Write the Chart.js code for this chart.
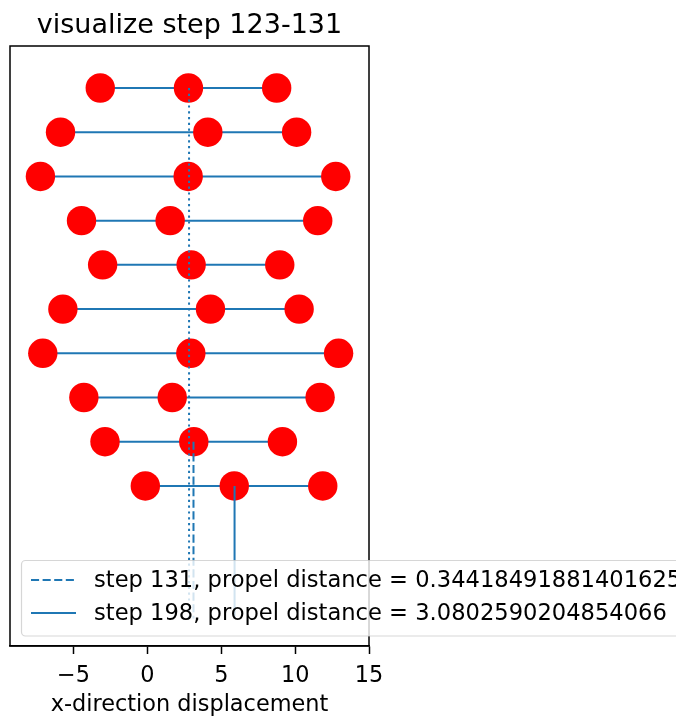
<!DOCTYPE html>
<html>
<head>
<meta charset="utf-8">
<script src="https://cdn.jsdelivr.net/npm/chart.js@4"></script>
<style>
  html, body { margin: 0; padding: 0; background: #fff; }
  canvas { display: block; }
</style>
</head>
<body>
<canvas id="chart" width="676" height="716"></canvas>
<script>
// rows top to bottom
const rowY = [10, 9, 8, 7, 6, 5, 4, 3, 2, 1];
const leftX = [-3.19, -5.88, -7.24, -4.46, -3.03, -5.72, -7.08, -4.30, -2.87, -0.14];
const midX = [2.78, 4.09, 2.76, 1.54, 2.96, 4.27, 2.94, 1.68, 3.14, 5.88];
const rightX = [8.75, 10.10, 12.75, 11.53, 8.96, 10.27, 12.94, 11.69, 9.14, 11.87];

// vertical markers: [x, yTop, yBottom]
const dottedLine = [2.82, 10, -2];
const dashedLine = [3.12, 2, -2];
const solidLine = [5.90, 1, -2];

const legendLabels = [
  'step 131, propel distance = 0.34418491881401625',
  'step 198, propel distance = 3.0802590204854066'
];
const titleText = 'visualize step 123-131';
const xLabel = 'x-direction displacement';

const BLUE = '#1f77b4';
const FONT = '"DejaVu Sans", sans-serif';

const datasets = [];

// horizontal connecting lines (drawn underneath)
rowY.forEach((y, i) => {
  datasets.push({
    type: 'line',
    data: [{ x: leftX[i], y }, { x: rightX[i], y }],
    borderColor: BLUE,
    borderWidth: 2,
    pointRadius: 0,
    fill: false,
    order: 3
  });
});

// red dots
const dots = [];
rowY.forEach((y, i) => {
  dots.push({ x: leftX[i], y }, { x: midX[i], y }, { x: rightX[i], y });
});
datasets.push({
  type: 'scatter',
  data: dots,
  backgroundColor: '#ff0000',
  borderWidth: 0,
  pointRadius: 14.7,
  order: 2
});

function vline(v, dash, label) {
  return {
    type: 'line',
    label: label,
    data: [{ x: v[0], y: v[1] }, { x: v[0], y: v[2] }],
    borderColor: BLUE,
    borderWidth: 2,
    borderDash: dash,
    pointRadius: 0,
    fill: false,
    order: 1
  };
}
datasets.push(vline(dottedLine, [2.2, 3.6], null));
const dashedDs = vline(dashedLine, [8.1, 3.5], legendLabels[0]);
const solidDs = vline(solidLine, [], legendLabels[1]);
datasets.push(dashedDs, solidDs);

const framePlugin = {
  id: 'frame',
  afterDraw(chart) {
    const { ctx, chartArea: a } = chart;
    ctx.save();
    ctx.strokeStyle = '#000';
    ctx.lineWidth = 1.5;
    ctx.strokeRect(a.left, a.top, a.right - a.left, a.bottom - a.top);

    // title and axis label
    ctx.fillStyle = '#000';
    ctx.textAlign = 'center';
    ctx.textBaseline = 'alphabetic';
    const cx = (a.left + a.right) / 2;
    ctx.font = '27px ' + FONT;
    ctx.fillText(titleText, cx, 33);
    ctx.font = '22.4px ' + FONT;
    ctx.fillText(xLabel, cx, 711);

    // legend box
    const lx = 21.5, ly = 560.5, lw = 700, lh = 75.5, r = 4;
    ctx.beginPath();
    ctx.roundRect(lx, ly, lw, lh, r);
    ctx.fillStyle = 'rgba(255,255,255,0.8)';
    ctx.fill();
    ctx.strokeStyle = 'rgba(204,204,204,0.8)';
    ctx.lineWidth = 1.2;
    ctx.stroke();

    const rows = [
      { ds: dashedDs, y: 580 },
      { ds: solidDs, y: 613 }
    ];
    rows.forEach(row => {
      ctx.beginPath();
      ctx.setLineDash(row.ds.borderDash);
      ctx.strokeStyle = BLUE;
      ctx.lineWidth = 2;
      ctx.moveTo(31, row.y);
      ctx.lineTo(76, row.y);
      ctx.stroke();
      ctx.setLineDash([]);
      ctx.fillStyle = '#000';
      ctx.textAlign = 'left';
      ctx.textBaseline = 'middle';
      ctx.font = '22.6px ' + FONT;
      ctx.fillText(row.ds.label, 94, row.y + 1);
    });
    ctx.restore();
  }
};

new Chart(document.getElementById('chart'), {
  type: 'scatter',
  data: { datasets },
  options: {
    responsive: false,
    animation: false,
    layout: { autoPadding: false, padding: { left: 10, top: 46, right: 307, bottom: 0 } },
    plugins: {
      legend: { display: false },
      tooltip: { enabled: false },
      title: { display: false }
    },
    scales: {
      x: {
        type: 'linear',
        min: -9.3,
        max: 15,
        afterFit: s => { s.height = 70; },
        ticks: {
          stepSize: 5,
          includeBounds: false,
          color: '#000',
          padding: 9,
          font: { family: FONT, size: 22.4 },
          callback: v => (v < 0 ? '\u2212' + Math.abs(v) : String(v))
        },
        grid: {
          display: true,
          drawOnChartArea: false,
          drawTicks: true,
          tickLength: 8,
          tickColor: '#000',
          tickWidth: 1.5
        },
        border: { display: true, color: '#000', width: 1.5 }
      },
      y: {
        display: false,
        min: -2.62,
        max: 10.95
      }
    }
  },
  plugins: [framePlugin]
});
</script>
</body>
</html>
